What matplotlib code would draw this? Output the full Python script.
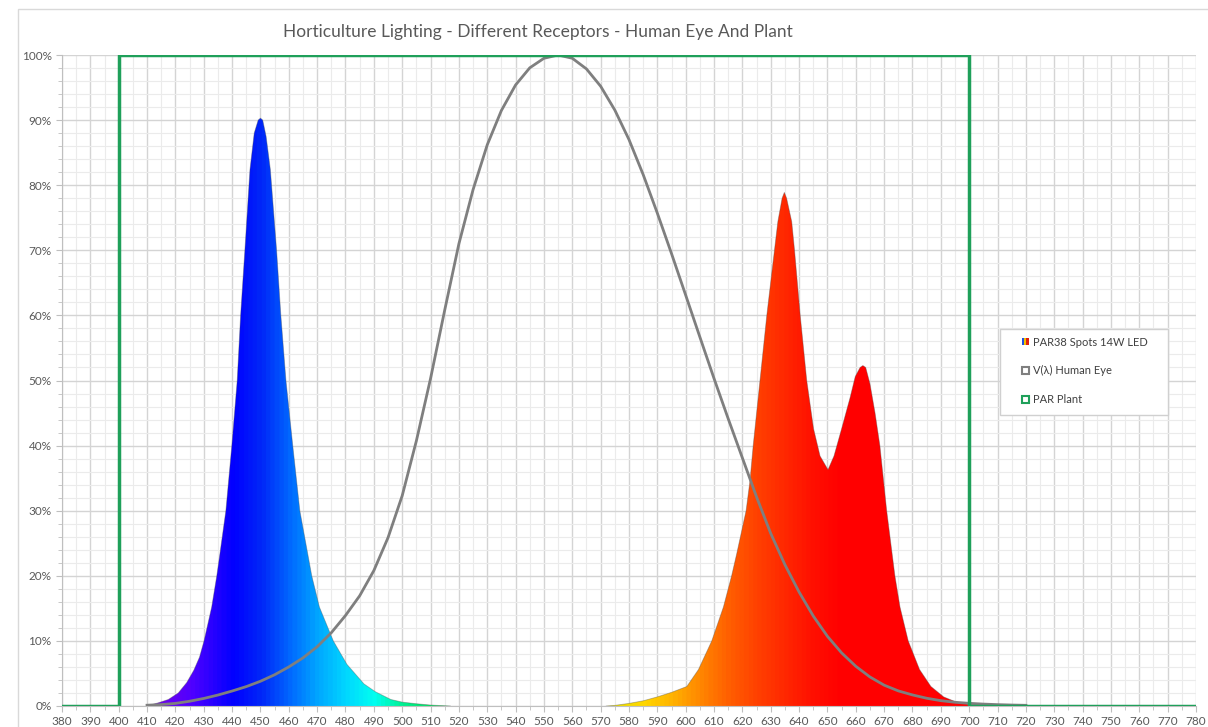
import numpy as np
import matplotlib
matplotlib.use('Agg')
import matplotlib.pyplot as plt
from matplotlib.colors import LinearSegmentedColormap
from matplotlib.patches import Patch, Rectangle
from matplotlib.legend_handler import HandlerTuple
from matplotlib.ticker import MultipleLocator, FuncFormatter

plt.rcParams['font.family'] = ['Lato', 'DejaVu Sans']

# LED spectrum, blue peak (nm, %)
blue_nm = [410, 414, 417.5, 421, 424, 426.5, 428.5, 430.1, 432.8, 434.6, 435.7, 437.8, 439.9,
           441.8, 443, 444.5, 446.3, 447.8, 449.2, 450, 450.8, 452, 453.5, 455.7, 457.2, 459,
           461.4, 463.9, 468.1, 470.8, 475.7, 480.5, 486.5, 490.5, 496, 500, 505, 510, 517]
blue_val = [0, 0.5, 1, 2, 3.6, 5.5, 7.5, 10, 15.2, 20, 23.4, 30, 40,
            50, 60, 70, 82.4, 88, 90, 90.3, 90, 87.5, 82.4, 70, 60, 50,
            40, 30, 20, 15.2, 10, 6.4, 3.4, 2.2, 1, 0.6, 0.35, 0.15, 0]

# LED spectrum, red peaks (nm, %)
red_nm = [572, 575, 580, 585, 590, 595, 600.4, 604.5, 609.2, 613.3, 616.2, 618, 621.3,
          622.7, 623.8, 626.2, 628.6, 631.3, 632.5, 634, 634.8, 635.6, 637.4, 638.4, 640.4,
          642.7, 645.1, 647.4, 650.2, 652.3, 655, 658, 659.8, 661.5, 662.5, 663.5, 665,
          666.8, 668.5, 670.9, 673.8, 675.6, 678.5, 682.5, 686.5, 691, 695.5, 700, 705, 710, 720]
red_val = [0, 0.1, 0.4, 0.8, 1.4, 2.1, 3, 5.6, 10, 15.2, 20, 23.4, 30,
           34.7, 40, 50, 60, 70, 74.4, 78, 78.9, 78, 74.4, 70, 60,
           50, 42.6, 38.4, 36.3, 38.4, 42.6, 47.4, 50.6, 52, 52.3, 52, 49.5,
           45, 40, 30, 20, 15.2, 10, 5.6, 3, 1.4, 0.6, 0.25, 0.12, 0.05, 0]

# V(lambda) human eye sensitivity, CIE photopic (nm, %)
eye_nm = list(range(410, 725, 5))
eye_val = [0.12, 0.218, 0.4, 0.73, 1.16, 1.684, 2.3, 2.98, 3.8, 4.8, 6.0, 7.39, 9.098, 11.26,
           13.902, 16.93, 20.802, 25.86, 32.3, 40.73, 50.3, 60.82, 71.0, 79.32, 86.2, 91.485,
           95.4, 98.03, 99.495, 100, 99.5, 97.86, 95.2, 91.54, 87.0, 81.63, 75.7, 69.49, 63.1,
           56.68, 50.3, 44.12, 38.1, 32.1, 26.5, 21.7, 17.5, 13.82, 10.7, 8.16, 6.1, 4.458,
           3.2, 2.32, 1.7, 1.192, 0.821, 0.572, 0.41, 0.293, 0.209, 0.148, 0.105]

# PAR plant range (nm, %)
par_nm = [380, 400, 400, 700, 700, 780]
par_val = [0, 0, 100, 100, 0, 0]

# colour stops for the spectrum gradient
stop_nm = [380, 410, 425, 440, 450, 460, 470, 480, 490, 500, 510, 520, 570, 585,
           595, 605, 615, 625, 635, 645, 655, 780]
stop_col = ['#8000ff', '#7800e8', '#5000ff', '#0000ff', '#0028f8', '#0068ff', '#00a8ff',
            '#00d8ff', '#00fff0', '#00f090', '#00e060', '#20d040', '#e0e000', '#ffd800',
            '#ffb400', '#ff8800', '#ff6000', '#ff4200', '#ff2800', '#ff1000', '#ff0000',
            '#ff0000']

fig = plt.figure(figsize=(12.08, 7.27), dpi=100)
ax = fig.add_axes([62/1208, 21/727, (1196-62)/1208, (706-55)/727])

fig.patches.append(Rectangle((18/1208, -0.01), 1.2, (727-9)/727 + 0.01, transform=fig.transFigure,
                             facecolor='none', edgecolor='#d9d9d9', lw=1))

pos = [(w - 380) / 400 for w in stop_nm]
cmap = LinearSegmentedColormap.from_list('spec', list(zip(pos, stop_col)))
grad = np.linspace(380, 780, 1600).reshape(1, -1)

for xs, ys in [(blue_nm, blue_val), (red_nm, red_val)]:
    poly = ax.fill_between(xs, 0, ys, facecolor='none', edgecolor='none')
    im = ax.imshow(grad, extent=[380, 780, 0, 100], aspect='auto', cmap=cmap,
                   vmin=380, vmax=780, zorder=2)
    im.set_clip_path(poly.get_paths()[0], transform=ax.transData)
    ax.plot(xs, ys, color='#505050', lw=0.6, alpha=0.4, zorder=3)

ax.plot(eye_nm, eye_val, color='#7f7f7f', lw=2, zorder=4)
ax.plot(par_nm, par_val, color='#1fa05a', lw=2.5, zorder=5)

ax.set_xlim(380, 780)
ax.set_ylim(0, 100)
ax.xaxis.set_major_locator(MultipleLocator(10))
ax.xaxis.set_minor_locator(MultipleLocator(5))
ax.yaxis.set_major_locator(MultipleLocator(10))
ax.yaxis.set_minor_locator(MultipleLocator(2))
ax.yaxis.set_major_formatter(FuncFormatter(lambda v, p: '%d%%' % v))
ax.grid(which='major', color='#d4d4d4', lw=1)
ax.grid(which='minor', color='#ebebeb', lw=0.8)
ax.set_axisbelow(True)
ax.tick_params(which='both', colors='#bfbfbf', labelcolor='#595959', labelsize=8.5)
ax.tick_params(which='major', length=4)
ax.tick_params(which='minor', length=3)
for s in ['top', 'right']:
    ax.spines[s].set_visible(False)
ax.spines['left'].set_color('#bfbfbf')
ax.spines['bottom'].set_color('#bfbfbf')

fig.text(538/1208, 1 - 32/727, 'Horticulture Lighting - Different Receptors - Human Eye And Plant',
         ha='center', va='center', fontsize=12.5, color='#595959')

# legend frame drawn separately for its wide side padding
ax.add_patch(Rectangle((0.8272, 0.447), 0.1481, 0.132, transform=ax.transAxes,
                       facecolor='white', edgecolor='#d0d0d0', lw=1, zorder=6))
led_handle = (Patch(facecolor='#2050e0'), Patch(facecolor='#f0c000'), Patch(facecolor='#e02010'))
eye_handle = Patch(facecolor='white', edgecolor='#7f7f7f', lw=1.5)
par_handle = Patch(facecolor='white', edgecolor='#1fa05a', lw=1.5)
leg = ax.legend([led_handle, eye_handle, par_handle],
                ['PAR38 Spots 14W LED', 'V(λ) Human Eye', 'PAR Plant'],
                handler_map={tuple: HandlerTuple(ndivide=None, pad=0)},
                loc='upper left', bbox_to_anchor=(0.8466, 0.5675), fontsize=8,
                handlelength=0.6, handleheight=0.6, handletextpad=0.35,
                labelspacing=1.6, borderpad=0, frameon=False, borderaxespad=0)
leg.set_zorder(7)
for t in leg.get_texts():
    t.set_color('#404040')

fig.savefig('out.png', dpi=100)
